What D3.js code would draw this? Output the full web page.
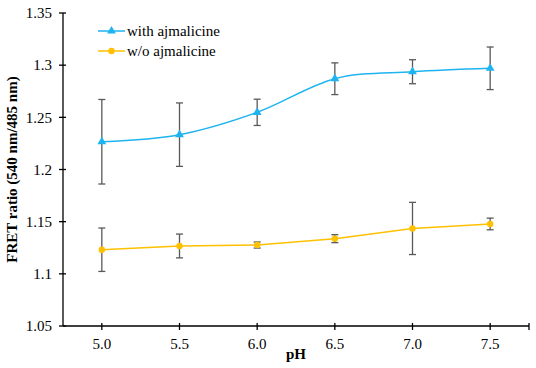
<!DOCTYPE html>
<html>
<head>
<meta charset="utf-8">
<script src="https://cdn.jsdelivr.net/npm/d3@7"></script>
<style>
  body { margin: 0; background: #fff; }
</style>
</head>
<body>
<div id="chart"></div>
<script>
const phLabels = ["5.0", "5.5", "6.0", "6.5", "7.0", "7.5"];
const yTicks = [1.05, 1.1, 1.15, 1.2, 1.25, 1.3, 1.35];

const withMean = [1.2266, 1.2334, 1.2548, 1.2870, 1.2937, 1.2970];
const withErr  = [0.0405, 0.0304, 0.0126, 0.0152, 0.0115, 0.0204];
const woMean   = [1.1231, 1.1267, 1.1276, 1.1337, 1.1435, 1.1478];
const woErr    = [0.0208, 0.0114, 0.0029, 0.0038, 0.0250, 0.0056];

const seriesNames = ["with ajmalicine", "w/o ajmalicine"];
const seriesColors = ["#1EB4F0", "#FFC000"];

(function fretChart() {
  let width = 536, height = 368,
    margin = ({ top: 13, right: 7, bottom: 42, left: 63 });

  const svg = d3.select("#chart")
    .append("svg")
    .attr("width", width)
    .attr("height", height)
    .attr("font-family", "'Liberation Serif', 'Times New Roman', serif");

  let x = d3.scaleBand()
    .domain(phLabels)
    .range([margin.left, width - margin.right]);

  let y = d3.scaleLinear()
    .domain([1.05, 1.35])
    .range([height - margin.bottom, margin.top]);

  let cx = d => x(d) + x.bandwidth() / 2;

  // x axis: ticks at category centres plus the right end
  let xAxis = svg.append("g").attr("class", "x-axis");
  xAxis.append("line")
    .attr("x1", margin.left).attr("x2", width - margin.right)
    .attr("y1", y(1.05)).attr("y2", y(1.05))
    .attr("stroke", "#000").attr("stroke-width", 1.3);
  xAxis.selectAll(".tick")
    .data(phLabels.map(cx).concat([width - margin.right]))
    .join("line")
    .attr("x1", d => d).attr("x2", d => d)
    .attr("y1", y(1.05) - 3).attr("y2", y(1.05) + 4)
    .attr("stroke", "#000").attr("stroke-width", 1.3);
  xAxis.selectAll("text")
    .data(phLabels)
    .join("text")
    .attr("x", d => cx(d))
    .attr("y", y(1.05) + 23)
    .attr("text-anchor", "middle")
    .attr("font-size", 15)
    .text(d => d);

  // y axis
  let yAxis = svg.append("g").attr("class", "y-axis");
  yAxis.append("line")
    .attr("x1", margin.left).attr("x2", margin.left)
    .attr("y1", y(1.35)).attr("y2", y(1.05))
    .attr("stroke", "#000").attr("stroke-width", 1.3);
  yAxis.selectAll(".tick")
    .data(yTicks)
    .join("line")
    .attr("x1", margin.left - 4).attr("x2", margin.left + 3)
    .attr("y1", d => y(d)).attr("y2", d => y(d))
    .attr("stroke", "#000").attr("stroke-width", 1.3);
  yAxis.selectAll("text")
    .data(yTicks)
    .join("text")
    .attr("x", margin.left - 11)
    .attr("y", d => y(d))
    .attr("dy", "0.35em")
    .attr("text-anchor", "end")
    .attr("font-size", 15)
    .text(d => d3.format("~g")(d));

  // axis titles
  svg.append("text")
    .attr("x", (margin.left + width - margin.right) / 2)
    .attr("y", height - 9)
    .attr("text-anchor", "middle")
    .attr("font-size", 15)
    .attr("font-weight", "bold")
    .text("pH");

  svg.append("text")
    .attr("transform", `translate(17,${(y(1.05) + y(1.35)) / 2}) rotate(-90)`)
    .attr("text-anchor", "middle")
    .attr("font-size", 15)
    .attr("font-weight", "bold")
    .text("FRET ratio (540 nm/485 nm)");

  let series = [
    { name: seriesNames[0], color: seriesColors[0], mean: withMean, err: withErr, marker: "triangle", curve: d3.curveCardinal.tension(0) },
    { name: seriesNames[1], color: seriesColors[1], mean: woMean, err: woErr, marker: "circle", curve: d3.curveLinear }
  ];

  let symbol = m => d3.symbol()
    .type(m === "triangle" ? d3.symbolTriangle : d3.symbolCircle)
    .size(m === "triangle" ? 34 : 32)();

  for (let s of series) {
    let pts = phLabels.map((ph, i) => ({ ph: ph, v: s.mean[i], e: s.err[i] }));
    let g = svg.append("g").attr("class", "series");

    let line = d3.line()
      .x(d => cx(d.ph))
      .y(d => y(d.v))
      .curve(s.curve);

    g.append("path")
      .datum(pts)
      .attr("fill", "none")
      .attr("stroke", s.color)
      .attr("stroke-width", 1.5)
      .attr("d", line);

    let eb = g.selectAll(".err")
      .data(pts)
      .join("g")
      .attr("class", "err")
      .attr("stroke", "#595959")
      .attr("stroke-width", 1.3);
    eb.append("line")
      .attr("x1", d => cx(d.ph)).attr("x2", d => cx(d.ph))
      .attr("y1", d => y(d.v + d.e)).attr("y2", d => y(d.v - d.e));
    eb.append("line")
      .attr("x1", d => cx(d.ph) - 3.5).attr("x2", d => cx(d.ph) + 3.5)
      .attr("y1", d => y(d.v + d.e)).attr("y2", d => y(d.v + d.e));
    eb.append("line")
      .attr("x1", d => cx(d.ph) - 3.5).attr("x2", d => cx(d.ph) + 3.5)
      .attr("y1", d => y(d.v - d.e)).attr("y2", d => y(d.v - d.e));

    g.selectAll(".pt")
      .data(pts)
      .join("path")
      .attr("class", "pt")
      .attr("transform", d => `translate(${cx(d.ph)},${y(d.v)})`)
      .attr("d", symbol(s.marker))
      .attr("fill", s.color);
  }

  // legend
  let legend = svg.append("g").attr("class", "legend");
  series.forEach((s, i) => {
    let ly = 31 + i * 20;
    legend.append("line")
      .attr("x1", 98).attr("x2", 125)
      .attr("y1", ly).attr("y2", ly)
      .attr("stroke", s.color).attr("stroke-width", 1.5);
    legend.append("path")
      .attr("transform", `translate(111.5,${ly})`)
      .attr("d", symbol(s.marker))
      .attr("fill", s.color);
    legend.append("text")
      .attr("x", 127)
      .attr("y", ly)
      .attr("dy", "0.35em")
      .attr("font-size", 15)
      .text(s.name);
  });
})();
</script>
</body>
</html>
